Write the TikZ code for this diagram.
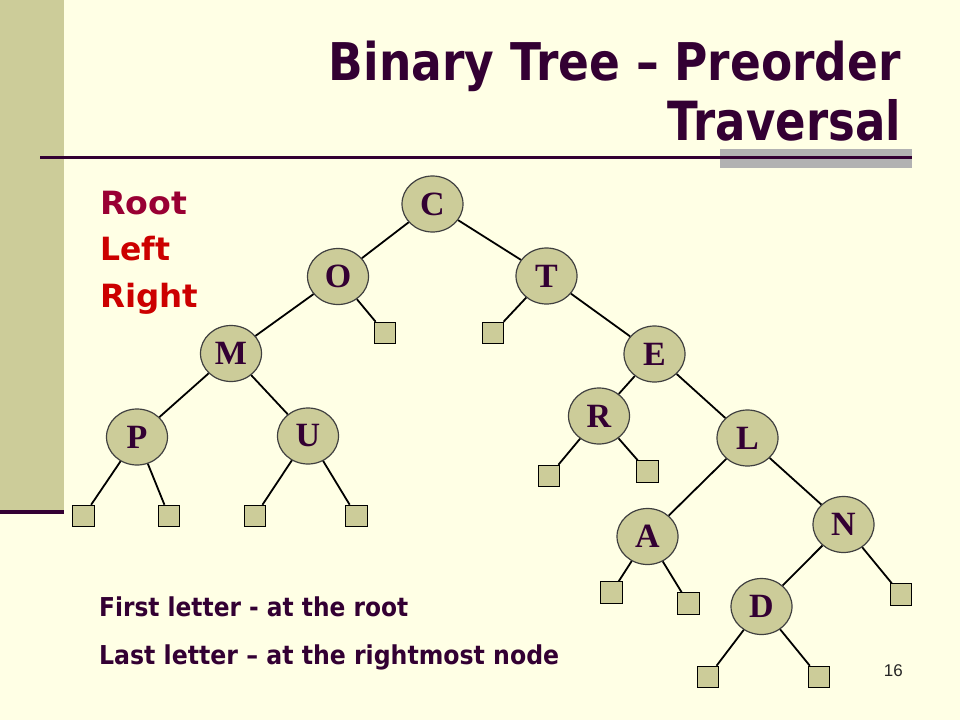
\documentclass[tikz,border=0pt]{standalone}
\usepackage{fontspec}
\usepackage{graphicx}
\setmainfont{DejaVu Sans}
\newfontfamily\serifb{Liberation Serif}[BoldFont={Liberation Serif Bold}]
\newfontfamily\numfont{Liberation Sans}
\usetikzlibrary{shapes.geometric}
\definecolor{bg}{RGB}{255,255,229}
\definecolor{khaki}{RGB}{204,204,153}
\definecolor{plum}{RGB}{51,0,51}
\definecolor{rootc}{RGB}{153,0,51}
\definecolor{redc}{RGB}{204,0,0}
\definecolor{greyr}{RGB}{178,178,178}
\begin{document}
\begin{tikzpicture}[x=1pt,y=-1pt,
  tnode/.style={ellipse, draw=black!75, line width=1.2pt, fill=khaki, minimum width=61pt, minimum height=56pt, inner sep=0pt, text=plum},
  leaf/.style={rectangle, draw=black, line width=1pt, fill=khaki, minimum size=21.5pt, inner sep=0pt},
  edge/.style={line width=1.8pt, black},
  txt/.style={inner sep=0pt, anchor=base west}]
\newcommand\tl[1]{\serifb\bfseries\fontsize{34}{34}\selectfont #1}
% background
\fill[bg] (0,0) rectangle (960,720);
\useasboundingbox (0,0) rectangle (960,720);
\fill[khaki] (0,0) rectangle (64,510);
\fill[plum] (0,510) rectangle (64,514);
\fill[greyr] (720,149) rectangle (912,168);
\fill[plum] (40,155.5) rectangle (912,158.5);
% title
\node[inner sep=0pt, anchor=base east, text=plum] (t1) at (901,80)
  {\resizebox{572pt}{\height}{\bfseries\fontsize{52}{52}\selectfont Binary Tree – Preorder}};
\node[inner sep=0pt, anchor=base east, text=plum] (t2) at (901,140)
  {\resizebox{233pt}{\height}{\bfseries\fontsize{54}{54}\selectfont Traversal}};
% Root Left Right
\node[txt, text=rootc] (root) at (100,214) {\resizebox{87pt}{\height}{\bfseries\fontsize{32}{32}\selectfont Root}};
\node[txt, text=redc] (left) at (100,260) {\resizebox{70pt}{\height}{\bfseries\fontsize{32}{32}\selectfont Left}};
\node[txt, text=redc] (right) at (100,307) {\resizebox{98pt}{\height}{\bfseries\fontsize{32}{32}\selectfont Right}};
% bottom notes
\node[txt, text=plum] (n1) at (99,616) {\resizebox{309pt}{\height}{\bfseries\fontsize{26}{26}\selectfont First letter - at the root}};
\node[txt, text=plum] (n2) at (99,664) {\resizebox{460pt}{\height}{\bfseries\fontsize{26}{26}\selectfont Last letter – at the rightmost node}};
\node[inner sep=0pt, anchor=base east, font=\numfont\fontsize{17}{17}\selectfont, text=black!85] (pg) at (903,676) {16};
% tree nodes
\node[tnode] (C) at (432.5,204) {\tl{C}};
\node[tnode] (O) at (338,276.5) {\tl{O}};
\node[tnode] (T) at (546.5,276) {\tl{T}};
\node[tnode] (M) at (231,353.5) {\tl{M}};
\node[tnode] (E) at (654.5,354) {\tl{E}};
\node[tnode] (P) at (137,437) {\tl{P}};
\node[tnode] (U) at (308,436) {\tl{U}};
\node[tnode] (R) at (599,416) {\tl{R}};
\node[tnode] (L) at (747.5,438) {\tl{L}};
\node[tnode] (A) at (647.5,536.5) {\tl{A}};
\node[tnode] (N) at (843.5,524.5) {\tl{N}};
\node[tnode] (D) at (761.5,606.5) {\tl{D}};
% leaves
\node[leaf] (b1) at (385,333) {};
\node[leaf] (b2) at (493,333) {};
\node[leaf] (b3) at (83.5,516) {};
\node[leaf] (b4) at (169,516) {};
\node[leaf] (b5) at (255,516) {};
\node[leaf] (b6) at (356.5,516) {};
\node[leaf] (b7) at (549,476) {};
\node[leaf] (b8) at (647.5,471.5) {};
\node[leaf] (b9) at (611.5,592.5) {};
\node[leaf] (b10) at (688.5,603.5) {};
\node[leaf] (b11) at (901,594.5) {};
\node[leaf] (b12) at (708,677) {};
\node[leaf] (b13) at (819,677) {};
% edges
\draw[edge] (C) -- (O);
\draw[edge] (C) -- (T);
\draw[edge] (O) -- (M);
\draw[edge] (O) -- (b1);
\draw[edge] (T) -- (b2);
\draw[edge] (T) -- (E);
\draw[edge] (M) -- (P);
\draw[edge] (M) -- (U);
\draw[edge] (P) -- (b3);
\draw[edge] (P) -- (b4);
\draw[edge] (U) -- (b5);
\draw[edge] (U) -- (b6);
\draw[edge] (E) -- (R);
\draw[edge] (E) -- (L);
\draw[edge] (R) -- (b7);
\draw[edge] (R) -- (b8);
\draw[edge] (L) -- (A);
\draw[edge] (L) -- (N);
\draw[edge] (A) -- (b9);
\draw[edge] (A) -- (b10);
\draw[edge] (N) -- (D);
\draw[edge] (N) -- (b11);
\draw[edge] (D) -- (b12);
\draw[edge] (D) -- (b13);
\end{tikzpicture}
\end{document}
